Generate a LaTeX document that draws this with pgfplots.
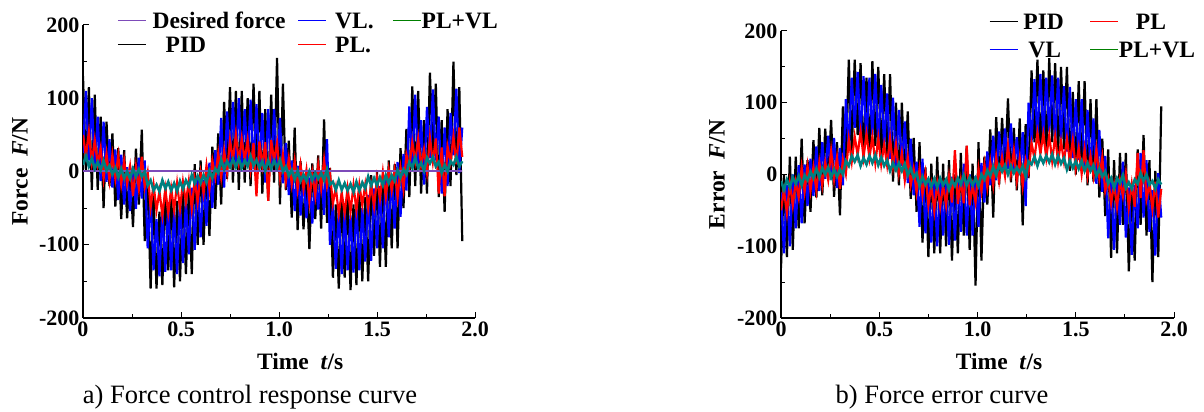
\documentclass[border=0pt]{standalone}
\usepackage{fontspec}
\setmainfont{Liberation Serif}
\usepackage{pgfplots}
\usepackage{pgfplotstable}
\pgfplotsset{compat=1.18}
\definecolor{plvlc}{RGB}{0,128,128}
\definecolor{legg}{RGB}{0,128,0}
\definecolor{desired}{RGB}{125,75,185}
\definecolor{vlc}{RGB}{0,0,255}
\definecolor{plc}{RGB}{255,0,0}

% force response (left) and force error (right)
\pgfplotstableread{
t pid vl pl plvl
0.000 130 25 50 9
0.015 0 110 22 21
0.030 115 15 54 7
0.045 -25 100 12 18
0.060 105 0 43 4
0.075 -25 75 10 13
0.090 75 -13 32 2
0.105 -50 68 -10 15
0.120 68 -14 24 1
0.135 -20 44 -12 8
0.150 52 -22 23 -4
0.165 -48 30 -10 5
0.180 32 -39 22 -8
0.195 -65 23 -17 4
0.210 29 -45 15 -9
0.225 -64 6 -17 0
0.240 8 -54 7 -10
0.255 -76 7 -33 4
0.270 31 -51 7 -7
0.285 -45 19 -24 3
0.300 57 -37 20 -7
0.315 -95 15 -21 0
0.330 -5 -105 -1 -19
0.345 -160 -35 -49 -12
0.360 -30 -135 -18 -26
0.375 -160 -65 -53 -18
0.390 -55 -143 -27 -27
0.405 -155 -52 -60 -12
0.420 -20 -137 -24 -23
0.435 -135 -43 -57 -14
0.450 -30 -135 -23 -26
0.465 -158 -55 -53 -16
0.480 -40 -140 -16 -27
0.495 -150 -40 -51 -13
0.510 -20 -125 -14 -24
0.525 -140 -40 -42 -12
0.540 -25 -113 -13 -20
0.555 -140 -22 -51 -5
0.570 10 -107 -11 -16
0.585 -100 -8 -42 -6
0.600 15 -90 -2 -16
0.615 -100 -12 -30 -5
0.630 6 -74 8 -15
0.645 -88 12 -24 1
0.660 34 -50 15 -9
0.675 -51 29 -8 4
0.690 52 -18 25 -2
0.705 -45 73 -8 16
0.720 95 -22 28 3
0.735 -10 82 -1 14
0.750 115 10 43 6
0.765 -15 95 15 17
0.780 110 10 51 6
0.795 -25 100 12 18
0.810 110 5 45 5
0.825 -15 85 15 15
0.840 100 12 43 7
0.855 -20 98 3 21
0.870 120 3 39 8
0.885 0 92 -34 16
0.900 110 5 41 5
0.915 -30 80 8 14
0.930 85 -15 40 1
0.945 -40 85 -40 15
0.960 105 0 43 4
0.975 -15 85 15 15
0.990 155 2 39 5
1.005 -45 73 -8 16
1.020 120 -16 23 0
1.035 -25 39 -14 7
1.050 42 -32 18 -6
1.065 -63 15 -17 2
1.080 60 -54 15 -11
1.095 -80 8 -24 1
1.110 14 -60 9 -13
1.125 -79 -9 -24 -4
1.140 -2 -64 2 -13
1.155 -106 -8 -40 0
1.170 11 -71 -2 -12
1.185 -65 -1 -33 -2
1.200 22 -52 9 -10
1.215 -78 0 -23 -2
1.230 71 -59 16 -12
1.245 -70 44 -20 3
1.260 5 -100 -3 -18
1.275 -145 -45 -44 -14
1.290 -45 -133 -22 -25
1.305 -160 -52 -58 -12
1.320 -30 -140 -29 -25
1.335 -145 -53 -57 -16
1.350 -30 -135 -23 -26
1.365 -162 -60 -55 -17
1.380 -45 -138 -19 -28
1.395 -155 -45 -53 -14
1.410 -30 -135 -18 -26
1.425 -150 -50 -46 -15
1.440 -35 -123 -18 -23
1.455 -150 -32 -50 -7
1.470 -5 -122 -18 -19
1.485 -115 -23 -48 -9
1.500 0 -105 -9 -19
1.515 -130 -20 -37 -8
1.530 -5 -105 -1 -19
1.545 -130 -5 -35 -5
1.560 15 -90 2 -16
1.575 -105 -5 -26 -5
1.590 10 -78 2 -13
1.605 -105 13 -35 2
1.620 32 -62 5 -8
1.635 -50 24 -24 3
1.650 58 -26 23 -4
1.665 -35 89 6 13
1.680 116 5 40 5
1.695 -20 105 14 19
1.710 110 5 45 5
1.725 -30 70 8 12
1.740 70 -18 30 1
1.755 -30 88 -1 19
1.770 135 18 46 11
1.785 20 112 13 20
1.800 120 15 45 7
1.815 -35 75 -30 13
1.830 70 -30 33 -2
1.845 -55 60 -34 9
1.860 85 -20 34 0
1.875 -20 80 13 14
1.890 150 22 48 9
1.905 -5 113 10 20
1.920 115 -2 60 7
1.935 -95 60 20 14
}\forcedata

\pgfplotstableread{
t pid vl pl plvl
0.000 -130 -25 -50 -9
0.015 0 -110 -22 -21
0.030 -115 -15 -54 -7
0.045 25 -100 -12 -18
0.060 -105 0 -43 -4
0.075 25 -75 -10 -13
0.090 -75 13 -32 -2
0.105 50 -68 10 -15
0.120 -68 14 -24 -1
0.135 20 -44 12 -8
0.150 -52 22 -23 4
0.165 48 -30 10 -5
0.180 -32 39 -22 8
0.195 65 -23 17 -4
0.210 -29 45 -15 9
0.225 64 -6 17 0
0.240 -8 54 -7 10
0.255 76 -7 33 -4
0.270 -31 51 -7 7
0.285 45 -19 24 -3
0.300 -57 37 -20 7
0.315 95 -15 21 0
0.330 5 105 1 19
0.345 160 35 49 12
0.360 30 135 18 26
0.375 160 65 53 18
0.390 55 143 27 27
0.405 155 52 60 12
0.420 20 137 24 23
0.435 135 43 57 14
0.450 30 135 23 26
0.465 158 55 53 16
0.480 40 140 16 27
0.495 150 40 51 13
0.510 20 125 14 24
0.525 140 40 42 12
0.540 25 113 13 20
0.555 140 22 51 5
0.570 -10 107 11 16
0.585 100 8 42 6
0.600 -15 90 2 16
0.615 100 12 30 5
0.630 -6 74 -8 15
0.645 88 -12 24 -1
0.660 -34 50 -15 9
0.675 51 -29 8 -4
0.690 -52 18 -25 2
0.705 45 -73 8 -16
0.720 -95 22 -28 -3
0.735 10 -82 1 -14
0.750 -115 -10 -43 -6
0.765 15 -95 -15 -17
0.780 -110 -10 -51 -6
0.795 25 -100 -12 -18
0.810 -110 -5 -45 -5
0.825 15 -85 -15 -15
0.840 -100 -12 -43 -7
0.855 20 -98 -3 -21
0.870 -120 -3 -39 -8
0.885 0 -92 34 -16
0.900 -110 -5 -41 -5
0.915 30 -80 -8 -14
0.930 -85 15 -40 -1
0.945 40 -85 40 -15
0.960 -105 0 -43 -4
0.975 15 -85 -15 -15
0.990 -155 -2 -39 -5
1.005 45 -73 8 -16
1.020 -120 16 -23 0
1.035 25 -39 14 -7
1.050 -42 32 -18 6
1.065 63 -15 17 -2
1.080 -60 54 -15 11
1.095 80 -8 24 -1
1.110 -14 60 -9 13
1.125 79 9 24 4
1.140 2 64 -2 13
1.155 106 8 40 0
1.170 -11 71 2 12
1.185 65 1 33 2
1.200 -22 52 -9 10
1.215 78 0 23 2
1.230 -71 59 -16 12
1.245 70 -44 20 -3
1.260 -5 100 3 18
1.275 145 45 44 14
1.290 45 133 22 25
1.305 160 52 58 12
1.320 30 140 29 25
1.335 145 53 57 16
1.350 30 135 23 26
1.365 162 60 55 17
1.380 45 138 19 28
1.395 155 45 53 14
1.410 30 135 18 26
1.425 150 50 46 15
1.440 35 123 18 23
1.455 150 32 50 7
1.470 5 122 18 19
1.485 115 23 48 9
1.500 0 105 9 19
1.515 130 20 37 8
1.530 5 105 1 19
1.545 130 5 35 5
1.560 -15 90 -2 16
1.575 105 5 26 5
1.590 -10 78 -2 13
1.605 105 -13 35 -2
1.620 -32 62 -5 8
1.635 50 -24 24 -3
1.650 -58 26 -23 4
1.665 35 -89 -6 -13
1.680 -116 -5 -40 -5
1.695 20 -105 -14 -19
1.710 -110 -5 -45 -5
1.725 30 -70 -8 -12
1.740 -70 18 -30 -1
1.755 30 -88 1 -19
1.770 -135 -18 -46 -11
1.785 -20 -112 -13 -20
1.800 -120 -15 -45 -7
1.815 35 -75 30 -13
1.830 -70 30 -33 2
1.845 55 -60 34 -9
1.860 -85 20 -34 0
1.875 20 -80 -13 -14
1.890 -150 -22 -48 -9
1.905 5 -113 -10 -20
1.920 -115 2 -60 -7
1.935 95 -60 -20 -14
}\errordata

\pgfplotsset{
  panel/.style={
    scale only axis,
    xmin=0, xmax=2, ymin=-200, ymax=200,
    axis lines=left,
    axis line style={-, line width=1.4pt},
    tick align=inside,
    major tick length=6pt, minor tick length=4pt,
    tick style={black, line width=1pt},
    xtick={0,0.5,1,1.5,2}, xticklabels={0,0.5,1.0,1.5,2.0},
    ytick={-200,-100,0,100,200}, yticklabels={-200,-100,0,100,200},
    minor x tick num=1, minor y tick num=1,
    ticklabel style={font=\bfseries\fontsize{22}{22}\selectfont},
    label style={font=\bfseries\fontsize{23.5}{24}\selectfont},
    legend image code/.code={\draw[#1, line width=1.5pt] (0pt,0pt) -- (28pt,0pt);},
    legend style={draw=none, fill=none, anchor=north west,
      column sep=0pt,
      font=\bfseries\fontsize{23.5}{24}\selectfont,
      nodes={inner sep=0pt, text height=17pt, text depth=1pt}},
  }
}

\begin{document}
\begin{tikzpicture}
\useasboundingbox (0,0) rectangle (1204pt,412pt);

\begin{axis}[panel,
  at={(781pt,94pt)}, anchor=south west,
  width=393pt, height=287pt,
  xlabel={Time~~\textit{t}/s},
  ylabel={Error~~\textit{F}/N},
  xlabel style={at={(axis description cs:0.555,-0.153)}, anchor=center},
  ylabel style={at={(axis description cs:-0.163,0.5)}, anchor=center},
  legend columns=2,
  legend style={at={(0.521,1.072)}, row sep=10pt},
]
\addlegendimage{draw=black}
\addlegendimage{draw=plc}
\addlegendimage{draw=vlc}
\addlegendimage{draw=legg}
\addplot[draw=black, line width=2.2pt, forget plot] table[x=t, y=pid]{\errordata};
\addplot[draw=vlc, line width=2.2pt, forget plot] table[x=t, y=vl]{\errordata};
\addplot[draw=plc, line width=2.2pt, forget plot] table[x=t, y=pl]{\errordata};
\addplot[draw=plvlc, line width=2.6pt, forget plot] table[x=t, y=plvl]{\errordata};
\legend{\makebox[71pt][l]{\hspace{5pt}PID},
        \makebox[80pt][l]{\hspace{17pt}PL},
        \makebox[71pt][l]{\hspace{10pt}VL},
        \makebox[80pt][l]{PL+VL}}
\end{axis}

\begin{axis}[panel,
  at={(83pt,94pt)}, anchor=south west,
  width=392pt, height=293pt,
  xlabel={Time~~\textit{t}/s},
  ylabel={Force~~\textit{F}/N},
  xlabel style={at={(axis description cs:0.554,-0.150)}, anchor=center},
  ylabel style={at={(axis description cs:-0.161,0.5)}, anchor=center},
  legend columns=3,
  legend style={at={(0.079,1.053)}, row sep=6pt},
]
\addlegendimage{draw=desired}
\addlegendimage{draw=vlc}
\addlegendimage{draw=legg}
\addlegendimage{draw=black}
\addlegendimage{draw=plc}
\addplot[draw=black, line width=2.2pt, forget plot] table[x=t, y=pid]{\forcedata};
\addplot[draw=vlc, line width=2.2pt, forget plot] table[x=t, y=vl]{\forcedata};
\addplot[draw=plc, line width=2.2pt, forget plot] table[x=t, y=pl]{\forcedata};
\addplot[draw=desired, line width=2pt, forget plot] coordinates {(0,0) (1.935,0)};
\addplot[draw=plvlc, line width=2.6pt, forget plot] table[x=t, y=plvl]{\forcedata};
\legend{\makebox[151pt][l]{\hspace{6pt}Desired force},
        \makebox[65pt][l]{\hspace{8pt}VL.},
        \makebox[62pt][l]{PL+VL},
        \makebox[151pt][l]{\hspace{19pt}PID},
        \makebox[65pt][l]{\hspace{8pt}PL.}}
\end{axis}

\node[anchor=base, font=\fontsize{26.5}{27}\selectfont] at (250pt,9pt) {a) Force control response curve};
\node[anchor=base, font=\fontsize{26.5}{27}\selectfont] at (942pt,9pt) {b) Force error curve};
\end{tikzpicture}
\end{document}
